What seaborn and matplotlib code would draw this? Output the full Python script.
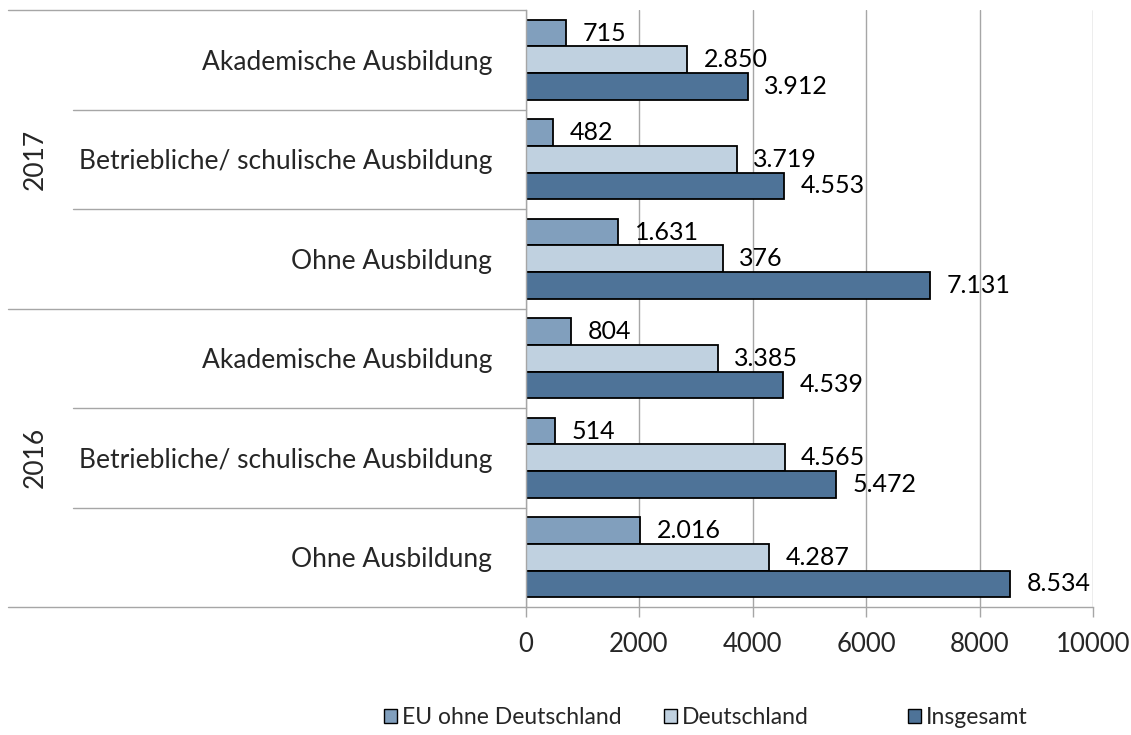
import matplotlib
matplotlib.use("Agg")
import matplotlib.pyplot as plt
import seaborn as sns
import pandas as pd
from matplotlib.patches import Patch

years = ["2017", "2017", "2017", "2016", "2016", "2016"]
categories = ["Akademische Ausbildung", "Betriebliche/ schulische Ausbildung", "Ohne Ausbildung",
              "Akademische Ausbildung", "Betriebliche/ schulische Ausbildung", "Ohne Ausbildung"]
series = ["EU ohne Deutschland", "Deutschland", "Insgesamt"]
eu_values = [715, 482, 1631, 804, 514, 2016]
de_values = [2850, 3719, 3476, 3385, 4565, 4287]
total_values = [3912, 4553, 7131, 4539, 5472, 8534]
eu_labels = ["715", "482", "1.631", "804", "514", "2.016"]
de_labels = ["2.850", "3.719", "376", "3.385", "4.565", "4.287"]
total_labels = ["3.912", "4.553", "7.131", "4.539", "5.472", "8.534"]
xticks = [0, 2000, 4000, 6000, 8000, 10000]

colors = ["#819FBD", "#C0D1E0", "#4E7398"]

sns.set_theme(style="white")
plt.rcParams["font.family"] = ["Lato", "DejaVu Sans"]

keys = [f"{y}|{c}" for y, c in zip(years, categories)]
rows = []
for vals, s in zip([eu_values, de_values, total_values], series):
    for k, v in zip(keys, vals):
        rows.append({"key": k, "value": v, "series": s})
df = pd.DataFrame(rows)

fig = plt.figure(figsize=(11.31, 7.35), dpi=100)
ax = fig.add_axes([525.5 / 1131, 1 - 607 / 735, (1093 - 525.5) / 1131, (607 - 10) / 735])

sns.barplot(data=df, y="key", x="value", hue="series", order=keys, hue_order=series,
            palette=colors, orient="h", width=0.8, edgecolor="black", linewidth=1.3,
            ax=ax, legend=False, saturation=1)

ax.set_xlim(0, 10000)
ax.set_ylim(5.5, -0.5)
ax.set_xticks(xticks)
ax.set_xticklabels([str(t) for t in xticks], fontsize=18.5)
ax.set_yticks(range(len(keys)))
ax.set_yticklabels(categories, fontsize=19)
ax.tick_params(axis="y", length=0, pad=24)
ax.tick_params(axis="x", length=7, width=1, color="#A6A6A6", pad=11, bottom=True)
ax.set_xlabel("")
ax.set_ylabel("")

for s in ["top", "right"]:
    ax.spines[s].set_visible(False)
for s in ["left", "bottom"]:
    ax.spines[s].set_color("#A6A6A6")
    ax.spines[s].set_linewidth(1)

ax.grid(axis="x", color="#A6A6A6", linewidth=1)
ax.set_axisbelow(True)

# data labels
all_labels = [eu_labels, de_labels, total_labels]
for container, labs in zip(ax.containers, all_labels):
    ax.bar_label(container, labels=labs, padding=12, fontsize=18, color="black")

# separators on category axis
tr = ax.get_yaxis_transform()
xo = -(525.5 - 8) / (1093 - 525.5)
xi = -(525.5 - 73) / (1093 - 525.5)
for yb in [-0.5, 2.5, 5.5]:
    ax.plot([xo, 0], [yb, yb], transform=tr, color="#A6A6A6", lw=1, clip_on=False)
for yb in [0.5, 1.5, 3.5, 4.5]:
    ax.plot([xi, 0], [yb, yb], transform=tr, color="#A6A6A6", lw=1, clip_on=False)

xyear = -(525.5 - 35) / (1093 - 525.5)
ax.text(xyear, 1, "2017", transform=tr, rotation=90, ha="center", va="center", fontsize=19)
ax.text(xyear, 4, "2016", transform=tr, rotation=90, ha="center", va="center", fontsize=19)

legend_x = [384, 664, 908]
for c, name, lx in zip(colors, series, legend_x):
    h = Patch(facecolor=c, edgecolor="black", linewidth=1)
    fig.legend([h], [name], loc="center left", bbox_to_anchor=(lx / 1131, 1 - 718 / 735),
               frameon=False, fontsize=16.5, handlelength=0.55, handleheight=0.55,
               handletextpad=0.25, borderpad=0, borderaxespad=0)

fig.savefig("out.png", dpi=100)
